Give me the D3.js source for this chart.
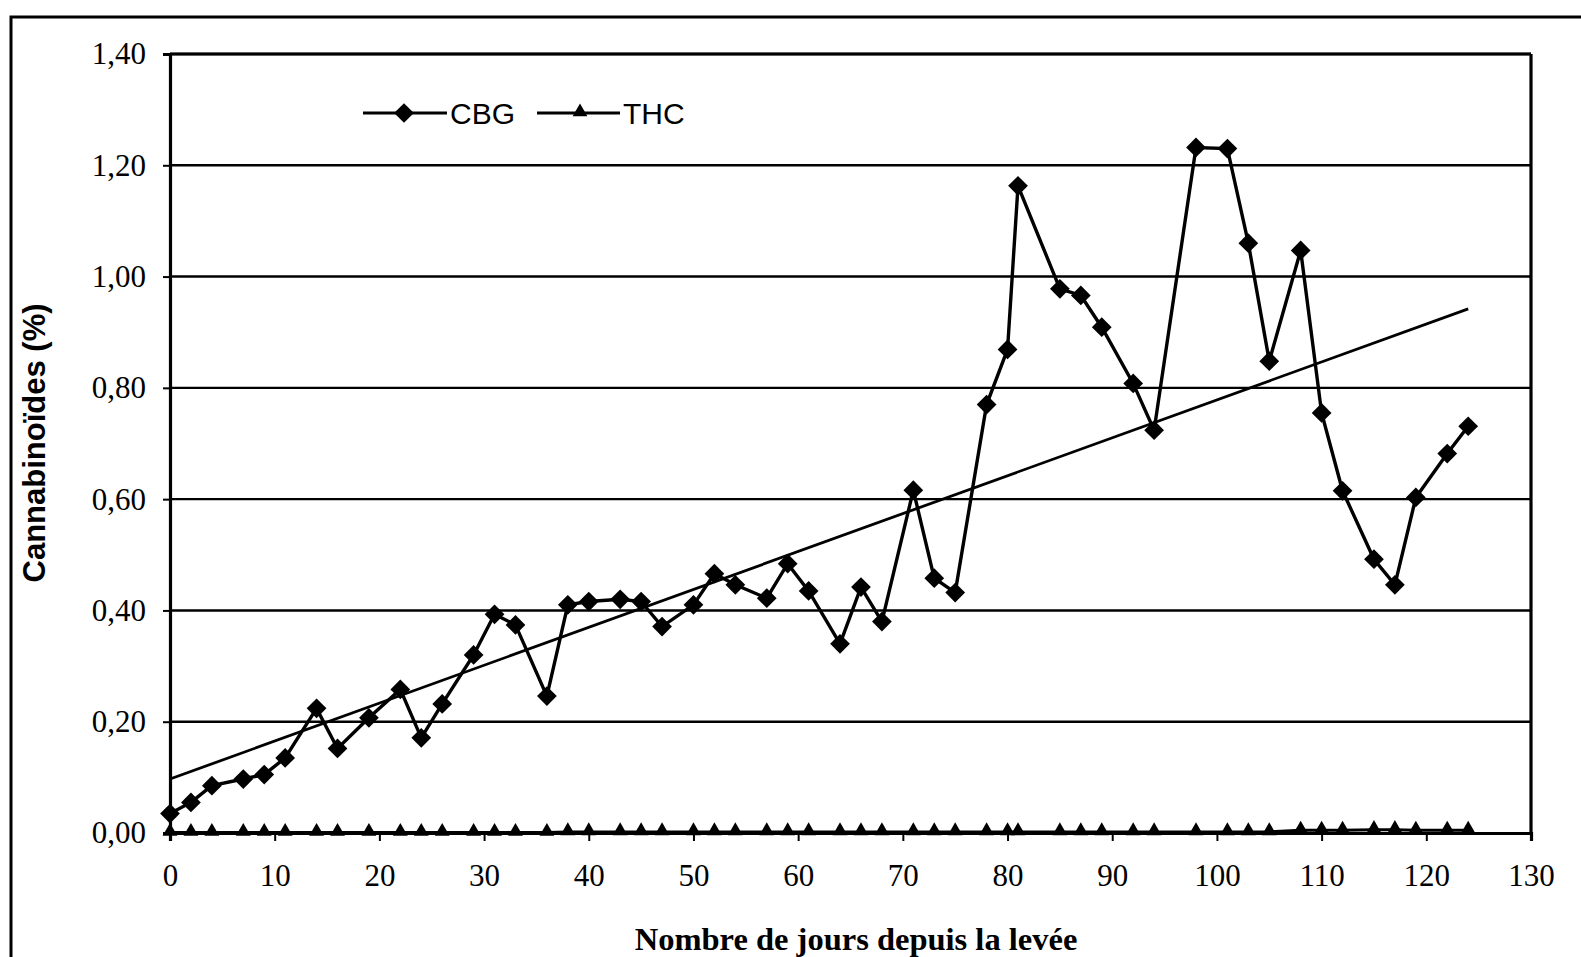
<!DOCTYPE html>
<html>
<head>
<meta charset="utf-8">
<script src="https://d3js.org/d3.v7.min.js"></script>
<style>
  body { margin: 0; background: #fff; }
  svg { display: block; }
</style>
</head>
<body>
<div id="chart-area"></div>
<script>
// data
var days = [0, 2, 4, 7, 9, 11, 14, 16, 19, 22, 24, 26, 29, 31, 33, 36, 38, 40, 43, 45, 47, 50, 52, 54,
    57, 59, 61, 64, 66, 68, 71, 73, 75, 78, 80, 81, 85, 87, 89, 92, 94, 98, 101, 103, 105, 108, 110, 112,
    115, 117, 119, 122, 124];
var cbg = [0.035, 0.055, 0.085, 0.097, 0.105, 0.135, 0.224, 0.152, 0.207, 0.258, 0.171, 0.232, 0.32, 0.393,
    0.374, 0.246, 0.41, 0.416, 0.42, 0.416, 0.371, 0.41, 0.466, 0.446, 0.422, 0.484, 0.435, 0.34, 0.442,
    0.38, 0.616, 0.458, 0.432, 0.77, 0.869, 1.163, 0.978, 0.966, 0.909, 0.808, 0.724, 1.232, 1.23, 1.06,
    0.848, 1.047, 0.755, 0.615, 0.492, 0.446, 0.603, 0.682, 0.731];
var thc = [0.001, 0.001, 0.001, 0.001, 0.001, 0.001, 0.001, 0.001, 0.001, 0.001, 0.001, 0.001, 0.001, 0.001,
    0.001, 0.001, 0.002, 0.002, 0.002, 0.002, 0.002, 0.002, 0.002, 0.002, 0.002, 0.002, 0.002, 0.002, 0.002,
    0.002, 0.002, 0.002, 0.002, 0.002, 0.002, 0.002, 0.002, 0.002, 0.002, 0.002, 0.002, 0.002, 0.002, 0.002,
    0.002, 0.005, 0.005, 0.005, 0.006, 0.006, 0.005, 0.005, 0.005];
// linear trend of CBG (as drawn)
var trendDays = [0, 124];
var trendValues = [0.097, 0.942];

var xTicks = [0, 10, 20, 30, 40, 50, 60, 70, 80, 90, 100, 110, 120, 130];
var yTicks = [0, 0.2, 0.4, 0.6, 0.8, 1.0, 1.2, 1.4];

var margin = {top: 54, left: 170};
var width = 1361;
var height = 779;

var x = d3.scaleLinear().domain([0, 130]).range([0, width]);
var y = d3.scaleLinear().domain([0, 1.4]).range([height, 0]);

var svg = d3.select("#chart-area")
    .append("svg")
    .attr("width", 1581)
    .attr("height", 957);

// outer frame (runs off the right and bottom edges)
svg.append("rect")
    .attr("x", 11).attr("y", 17)
    .attr("width", 1600).attr("height", 1000)
    .attr("fill", "none").attr("stroke", "#000").attr("stroke-width", 3);

var g = svg.append("g")
    .attr("transform", "translate(" + margin.left + ", " + margin.top + ")");

// gridlines
g.selectAll(".grid")
    .data(yTicks.filter((d) => d > 0))
    .enter().append("line")
    .attr("class", "grid")
    .attr("x1", 0).attr("x2", width)
    .attr("y1", (d) => y(d)).attr("y2", (d) => y(d))
    .attr("stroke", "#000").attr("stroke-width", 2.4);

// right and top border
g.append("line")
    .attr("x1", width).attr("x2", width)
    .attr("y1", 0).attr("y2", height)
    .attr("stroke", "#000").attr("stroke-width", 3.2);
g.append("line")
    .attr("x1", 0).attr("x2", width)
    .attr("y1", 0).attr("y2", 0)
    .attr("stroke", "#000").attr("stroke-width", 3.2);

var yAxisCall = d3.axisLeft(y)
    .tickValues(yTicks)
    .tickSize(7)
    .tickPadding(17)
    .tickFormat((d) => d.toFixed(2).replace(".", ","));
var yAxisGroup = g.append("g").attr("class", "y axis").call(yAxisCall);

var xAxisCall = d3.axisBottom(x)
    .tickValues(xTicks)
    .tickSize(8)
    .tickPadding(23)
    .tickFormat((d) => d);
var xAxisGroup = g.append("g")
    .attr("class", "x axis")
    .attr("transform", "translate(0, " + height + ")")
    .call(xAxisCall);

[yAxisGroup, xAxisGroup].forEach((ax) => {
    ax.select(".domain").attr("stroke-width", 3.2).attr("stroke", "#000");
    ax.selectAll(".tick line").attr("stroke-width", 2).attr("stroke", "#000");
    ax.selectAll("text")
        .attr("font-family", "'Liberation Serif', 'Times New Roman', serif")
        .attr("font-size", "31px")
        .attr("fill", "#000");
});

// trend line
var trend = trendDays.map((d, i) => ({day: d, value: trendValues[i]}));
var line = d3.line().x((d) => x(d.day)).y((d) => y(d.value));
g.append("path")
    .datum(trend)
    .attr("d", line)
    .attr("fill", "none").attr("stroke", "#000").attr("stroke-width", 2.8);

var cbgData = days.map((d, i) => ({day: d, value: cbg[i]}));
var thcData = days.map((d, i) => ({day: d, value: thc[i]}));

g.append("path")
    .datum(thcData)
    .attr("d", line)
    .attr("fill", "none").attr("stroke", "#000").attr("stroke-width", 3);

g.append("path")
    .datum(cbgData)
    .attr("d", line)
    .attr("fill", "none").attr("stroke", "#000").attr("stroke-width", 3.4);

var diamond = d3.symbol(d3.symbolSquare, 195);
var triangle = d3.symbol(d3.symbolTriangle, 95);

g.selectAll(".thc")
    .data(thcData)
    .enter().append("path")
    .attr("class", "thc")
    .attr("d", triangle)
    .attr("transform", (d) => "translate(" + x(d.day) + "," + (y(d.value) - 1) + ")")
    .attr("fill", "#000");

g.selectAll(".cbg")
    .data(cbgData)
    .enter().append("path")
    .attr("class", "cbg")
    .attr("d", diamond)
    .attr("transform", (d) => "translate(" + x(d.day) + "," + y(d.value) + ") rotate(45)")
    .attr("fill", "#000");

// legend
var legend = svg.append("g").attr("font-family", "'Liberation Sans', Arial, sans-serif")
    .attr("font-size", "30px");
legend.append("line").attr("x1", 363).attr("x2", 447).attr("y1", 113).attr("y2", 113)
    .attr("stroke", "#000").attr("stroke-width", 3.2);
legend.append("path").attr("d", diamond)
    .attr("transform", "translate(404,113) rotate(45)").attr("fill", "#000");
legend.append("text").attr("x", 450).attr("y", 124).text("CBG");
legend.append("line").attr("x1", 537).attr("x2", 620).attr("y1", 113).attr("y2", 113)
    .attr("stroke", "#000").attr("stroke-width", 3);
legend.append("path").attr("d", triangle)
    .attr("transform", "translate(580,112)").attr("fill", "#000");
legend.append("text").attr("x", 623).attr("y", 124).text("THC");

// axis titles
svg.append("text")
    .attr("transform", "translate(45, 443) rotate(-90)")
    .attr("text-anchor", "middle")
    .attr("font-family", "'Liberation Sans', Arial, sans-serif")
    .attr("font-weight", "bold")
    .attr("font-size", "31px")
    .text("Cannabinoïdes (%)");

svg.append("text")
    .attr("x", 856)
    .attr("y", 950)
    .attr("text-anchor", "middle")
    .attr("font-family", "'Liberation Serif', 'Times New Roman', serif")
    .attr("font-weight", "bold")
    .attr("font-size", "32.5px")
    .text("Nombre de jours depuis la levée");
</script>
</body>
</html>
